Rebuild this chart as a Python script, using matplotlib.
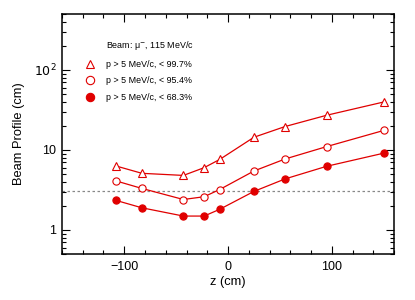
import matplotlib
matplotlib.use("Agg")
import matplotlib.pyplot as plt
from matplotlib.lines import Line2D
from matplotlib.ticker import FixedLocator, FixedFormatter, MultipleLocator, LogLocator, NullFormatter

plt.rcParams['font.family'] = ['Liberation Sans', 'DejaVu Sans']

z = [-108, -83, -43, -23, -8, 25, 55, 95, 150]
p997 = [6.3, 5.1, 4.8, 6.0, 7.6, 14.4, 19.6, 27.1, 39.7]
p954 = [4.1, 3.3, 2.4, 2.6, 3.2, 5.45, 7.7, 11.0, 17.5]
p683 = [2.34, 1.89, 1.49, 1.49, 1.81, 3.03, 4.34, 6.24, 9.1]
ref_level = 3.05

legend_title = "Beam: \u03bc$^{-}$, 115 MeV/c"
labels = ["p > 5 MeV/c, < 99.7%", "p > 5 MeV/c, < 95.4%", "p > 5 MeV/c, < 68.3%"]
yticks = [1, 10, 100]
yticklabels = ["1", "10", "$10^{2}$"]
xticks = [-100, 0, 100]

red = "#e00000"

fig = plt.figure(figsize=(4.15, 3.0), dpi=100)
ax = fig.add_axes([62/415, 1-254/300, (394-62)/415, (254-14)/300])

ax.axhline(ref_level, color="#888888", ls=(0, (2, 2)), lw=0.9, zorder=1)

ms = 5.2
ax.plot(z, p997, color=red, lw=0.9, marker="^", ms=ms, mfc="white", mec=red, mew=0.8, zorder=3)
ax.plot(z, p954, color=red, lw=0.9, marker="o", ms=ms, mfc="white", mec=red, mew=0.8, zorder=3)
ax.plot(z, p683, color=red, lw=0.9, marker="o", ms=ms, mfc=red, mec=red, mew=0.8, zorder=3)

ax.set_yscale("log")
ax.set_xlim(-160, 160)
ax.set_ylim(0.5, 500)

ax.xaxis.set_major_locator(FixedLocator(xticks))
ax.xaxis.set_minor_locator(MultipleLocator(20))
ax.yaxis.set_major_locator(FixedLocator(yticks))
ax.yaxis.set_major_formatter(FixedFormatter(yticklabels))
ax.yaxis.set_minor_locator(LogLocator(base=10, subs=range(2, 10)))
ax.yaxis.set_minor_formatter(NullFormatter())

ax.tick_params(which="both", direction="in", top=True, right=True, width=0.8, labelsize=9)
ax.tick_params(which="major", length=6)
ax.tick_params(which="minor", length=3)
ax.tick_params(axis="x", pad=5)
ax.tick_params(axis="y", pad=4)
for s in ax.spines.values():
    s.set_linewidth(1.1)

ax.set_xlabel("z (cm)", fontsize=9.3, labelpad=2)
ax.set_ylabel("Beam Profile (cm)", fontsize=9.3, labelpad=6)

lms = 6
h0 = Line2D([], [], ls="none", marker="")
h1 = Line2D([], [], ls="none", marker="^", ms=lms, mfc="white", mec=red, mew=0.8)
h2 = Line2D([], [], ls="none", marker="o", ms=lms, mfc="white", mec=red, mew=0.8)
h3 = Line2D([], [], ls="none", marker="o", ms=lms, mfc=red, mec=red, mew=0.8)
ax.legend([h0, h1, h2, h3], [legend_title] + labels, loc="upper left",
          bbox_to_anchor=(0.07, 0.895), frameon=False, fontsize=6.4,
          handlelength=1.0, handletextpad=1.3, labelspacing=0.85,
          borderpad=0, borderaxespad=0)

fig.savefig("out.png", dpi=100)
